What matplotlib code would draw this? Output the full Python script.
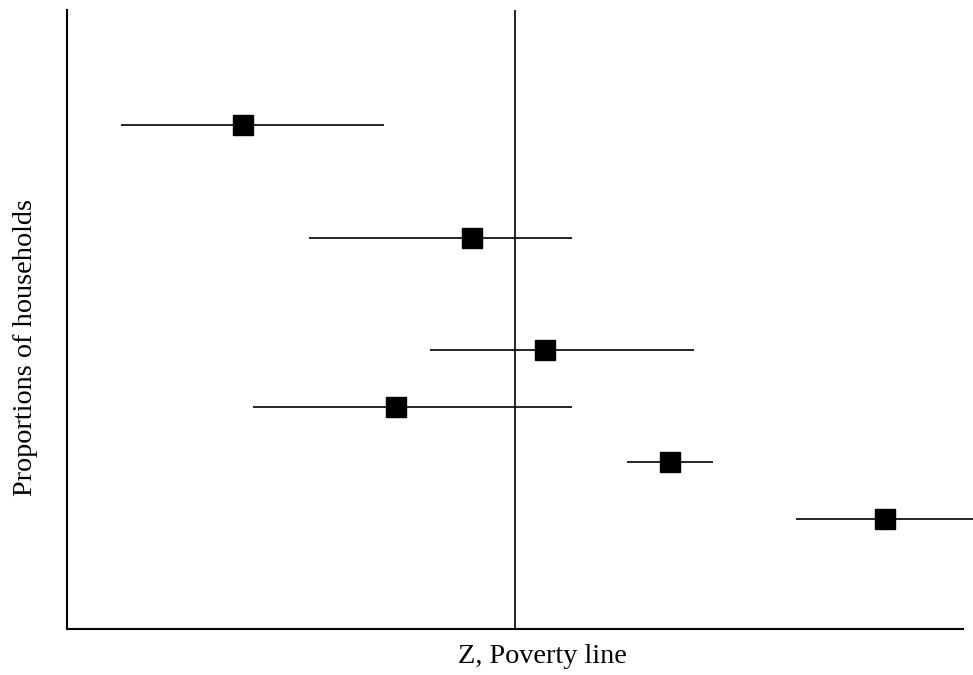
import matplotlib.pyplot as plt

plt.rcParams['font.family'] = ['Liberation Serif', 'DejaVu Serif']

# household groups: point estimate and interval (x), vertical position (y)
x_mid = [19.6, 45.2, 53.3, 36.7, 67.3, 91.3]
x_lo = [6.0, 27.0, 40.5, 20.8, 62.5, 81.4]
x_hi = [35.4, 56.4, 70.0, 56.4, 72.1, 101.1]
y_pos = [81.4, 63.2, 45.1, 35.9, 27.0, 17.8]
z_line = 50.0

fig = plt.figure(figsize=(9.73, 6.75), dpi=100)
ax = fig.add_axes([67 / 973, 46 / 675, 896 / 973, 619 / 675])

ax.hlines(y_pos, x_lo, x_hi, color='black', lw=1.2, clip_on=False)
ax.plot(x_mid, y_pos, 's', color='black', ms=14.5, clip_on=False)
ax.axvline(z_line, color='black', lw=1.2)

ax.set_xlim(0, 100)
ax.set_ylim(0, 100)
ax.set_xticks([])
ax.set_yticks([])
for s in ['top', 'right']:
    ax.spines[s].set_visible(False)
for s in ['left', 'bottom']:
    ax.spines[s].set_linewidth(1.5)

ax.set_xlabel('Z, Poverty line', fontsize=20.3, va='center', ha='center')
ax.xaxis.set_label_coords(0.531, -0.045)
ax.set_ylabel('Proportions of households', fontsize=20.3, va='center', ha='center')
ax.yaxis.set_label_coords(-0.046, 0.454)

fig.savefig('out.png', dpi=100)
